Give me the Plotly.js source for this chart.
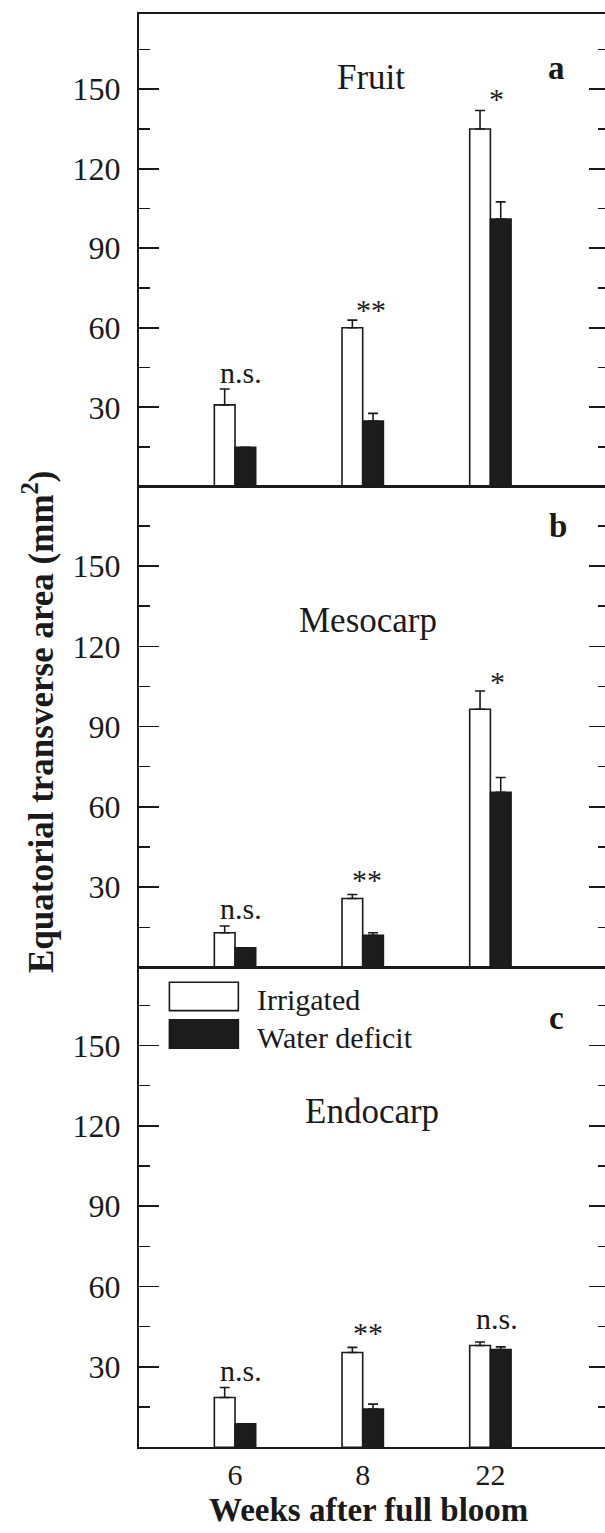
<!DOCTYPE html>
<html>
<head>
<meta charset="utf-8">
<script src="https://cdn.plot.ly/plotly-3.0.1.min.js"></script>
<style>
html,body{margin:0;padding:0;overflow:hidden;background:#fff;}
#chart{width:612px;height:1533px;}
</style>
</head>
<body>
<div id="chart"></div>
<script>
// ---- data ----
const weeks = ['6', '8', '22'];
const seriesNames = ['Irrigated', 'Water deficit'];

const fruitIrr = [30.9, 60.0, 135.0];
const fruitIrrErr = [6.0, 2.9, 7.0];
const fruitWD = [14.9, 24.8, 101.0];
const fruitWDErr = [0, 2.9, 6.5];
const fruitSig = ['n.s.', '**', '*'];

const mesoIrr = [13.0, 25.8, 96.5];
const mesoIrrErr = [2.5, 1.5, 6.8];
const mesoWD = [7.4, 12.0, 65.5];
const mesoWDErr = [0, 1.0, 5.5];
const mesoSig = ['n.s.', '**', '*'];

const endoIrr = [18.6, 35.4, 38.0];
const endoIrrErr = [3.7, 1.9, 1.3];
const endoWD = [8.8, 14.3, 36.5];
const endoWDErr = [0, 1.8, 1.0];
const endoSig = ['n.s.', '**', 'n.s.'];

const panelNames = ['Fruit', 'Mesocarp', 'Endocarp'];
const panelLetters = ['a', 'b', 'c'];
const majorTicks = [30, 60, 90, 120, 150];
const minorTicks = [15, 45, 75, 105, 135, 165];

// ---- layout helpers ----
const W = 612, H = 1533;
const FONT = 'Liberation Serif, Times New Roman, Times, serif';
const INK = '#1a1a1a';
const X = px => px / W;
const Y = py => 1 - py / H;
const xPos = weeks.map((w, i) => i);

const panels = [
  {irr: fruitIrr, irrE: fruitIrrErr, wd: fruitWD, wdE: fruitWDErr, sig: fruitSig,
   top: 13.5, bot: 486.8, range: 178.6,
   name: [1.067, 154.6], letter: [2.519, 158.0],
   sigPos: [[0.045, 43.3], [1.065, 66.9], [2.049, 146.5]]},
  {irr: mesoIrr, irrE: mesoIrrErr, wd: mesoWD, wdE: mesoWDErr, sig: mesoSig,
   top: 486.8, bot: 967.5, range: 179.6,
   name: [1.044, 129.8], letter: [2.529, 164.9],
   sigPos: [[0.047, 22.2], [1.031, 32.7], [2.059, 106.8]]},
  {irr: endoIrr, irrE: endoIrrErr, wd: endoWD, wdE: endoWDErr, sig: endoSig,
   top: 967.5, bot: 1447.3, range: 179.1,
   name: [1.073, 125.3], letter: [2.514, 160.4],
   sigPos: [[0.047, 28.5], [1.041, 42.9], [2.052, 47.9]]}
];

const traces = [];
const annotations = [];
const shapes = [];
const layout = {
  width: W, height: H,
  margin: {l: 0, r: 0, t: 0, b: 0},
  paper_bgcolor: '#fff', plot_bgcolor: '#fff',
  showlegend: false,
  barmode: 'group', bargap: 0.676, bargroupgap: 0,
  font: {family: FONT, color: INK, size: 30}
};

panels.forEach((p, i) => {
  const n = i + 1;
  const xa = n === 1 ? 'x' : 'x' + n;
  const ya = n === 1 ? 'y' : 'y' + n;
  const xKey = n === 1 ? 'xaxis' : 'xaxis' + n;
  const yKey = n === 1 ? 'yaxis' : 'yaxis' + n;

  traces.push({
    type: 'bar', name: seriesNames[0], x: xPos, y: p.irr, xaxis: xa, yaxis: ya,
    marker: {color: '#ffffff', line: {color: INK, width: 1.6}},
    error_y: {type: 'data', array: p.irrE, arrayminus: p.irrE.map(() => 0), symmetric: false,
              color: INK, thickness: 1.6, width: 5},
    offsetgroup: 'irr', hoverinfo: 'skip'
  });
  traces.push({
    type: 'bar', name: seriesNames[1], x: xPos, y: p.wd, xaxis: xa, yaxis: ya,
    marker: {color: '#1c1c1c', line: {color: INK, width: 1.6}},
    error_y: {type: 'data', array: p.wdE, arrayminus: p.wdE.map(() => 0), symmetric: false,
              color: INK, thickness: 1.6, width: 5},
    offsetgroup: 'wd', hoverinfo: 'skip'
  });

  layout[xKey] = {
    domain: [X(138.5), X(609)], range: [-0.756, 2.929], anchor: ya,
    showgrid: false, zeroline: false,
    showline: true, linecolor: INK, linewidth: 1.6, mirror: true,
    ticks: '', tickvals: xPos, ticktext: weeks,
    showticklabels: n === 3, ticklabelstandoff: 0,
    tickfont: {family: FONT, size: 30, color: INK}
  };
  layout[yKey] = {
    domain: [Y(p.bot), Y(p.top)], range: [0, p.range], anchor: xa,
    showgrid: false, zeroline: false,
    showline: true, linecolor: INK, linewidth: 1.6, mirror: 'ticks',
    ticks: 'inside', ticklen: 20, tickwidth: 1.6, tickcolor: INK,
    tickvals: majorTicks, ticktext: majorTicks.map(String),
    minor: {tickvals: minorTicks, ticks: 'inside', ticklen: 11, tickwidth: 1.4, tickcolor: INK},
    ticklabelstandoff: 10,
    tickfont: {family: FONT, size: 32, color: INK}
  };

  annotations.push({xref: xa, yref: ya, x: p.name[0], y: p.name[1], text: panelNames[i],
    showarrow: false, xanchor: 'center', yanchor: 'middle',
    font: {family: FONT, size: 35, color: INK}});
  annotations.push({xref: xa, yref: ya, x: p.letter[0], y: p.letter[1], text: '<b>' + panelLetters[i] + '</b>',
    showarrow: false, xanchor: 'center', yanchor: 'middle',
    font: {family: FONT, size: 33, color: INK}});
  p.sig.forEach((s, j) => {
    annotations.push({xref: xa, yref: ya, x: p.sigPos[j][0], y: p.sigPos[j][1], text: s,
      showarrow: false, xanchor: 'center', yanchor: 'middle',
      font: {family: FONT, size: 30, color: INK}});
  });
});

// legend (drawn inside panel c)
shapes.push({type: 'rect', xref: 'x3', yref: 'y3', x0: -0.514, x1: 0.026, y0: 163.0, y1: 173.6,
  fillcolor: '#ffffff', line: {color: INK, width: 1.6}});
shapes.push({type: 'rect', xref: 'x3', yref: 'y3', x0: -0.514, x1: 0.026, y0: 149.0, y1: 159.6,
  fillcolor: '#1c1c1c', line: {color: INK, width: 1.6}});
annotations.push({xref: 'x3', yref: 'y3', x: 0.16, y: 167.2, text: seriesNames[0], showarrow: false,
  xanchor: 'left', yanchor: 'middle', font: {family: FONT, size: 30, color: INK}});
annotations.push({xref: 'x3', yref: 'y3', x: 0.16, y: 153.0, text: seriesNames[1], showarrow: false,
  xanchor: 'left', yanchor: 'middle', font: {family: FONT, size: 30, color: INK}});

// axis titles
annotations.push({xref: 'paper', yref: 'paper', x: X(368), y: Y(1510), text: '<b>Weeks after full bloom</b>',
  showarrow: false, xanchor: 'center', yanchor: 'middle', font: {family: FONT, size: 33, color: INK}});
annotations.push({xref: 'paper', yref: 'paper', x: X(38), y: Y(722),
  text: '<b>Equatorial transverse area (mm<sup>2</sup>)</b>', textangle: -90,
  showarrow: false, xanchor: 'center', yanchor: 'middle', font: {family: FONT, size: 35, color: INK}});

layout.annotations = annotations;
layout.shapes = shapes;

Plotly.newPlot('chart', traces, layout, {staticPlot: true, displayModeBar: false});
</script>
</body>
</html>
